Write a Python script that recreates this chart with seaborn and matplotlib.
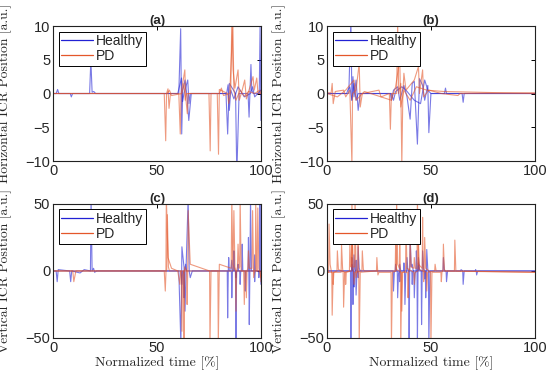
import pandas as pd
import seaborn as sns
import matplotlib.pyplot as plt
from matplotlib.lines import Line2D

# each trace: list of (normalized time, ICR position)
# (a) horizontal ICR, subject set 1
a_healthy_1 = [(0, 0), (1.5, 0), (2.2, 0.6), (2.8, 0), (8.3, 0), (8.8, -0.5), (9.4, 0),
               (17.6, 0), (18.2, 5), (18.8, 0.2), (19.6, 0.3), (20.5, 0), (60.5, 0),
               (61.4, 9.6), (61.9, -6), (62.4, 0.5), (63.5, 2), (64.5, -0.5), (65.3, -4),
               (66.5, 0), (83.2, 0), (84.0, -6), (84.8, 1.5), (87.8, 0), (88.4, -12),
               (89.5, 0), (93.8, 0), (94.3, -3.5), (95.2, 4.3), (95.6, 0.5), (96.3, 0),
               (99.2, 0), (99.6, 10), (100, -4)]
a_healthy_2 = [(0, 0), (60, 0), (61.8, 2.3), (62.3, -1.2), (63, 0), (64.8, 2), (65.4, -1.5),
               (66, 0), (83.5, 0), (84.2, 1.3), (84.8, -2.5), (85.5, 0.5), (87, -0.8),
               (89, 1), (92, -0.5), (95, 0), (96, 1), (97, -0.5), (100, 0.5)]
a_pd_1 = [(0, 0), (53.5, 0), (54.2, -7), (54.6, 0), (55.3, 0.7), (55.8, -2.2), (56.5, 0),
          (60.5, 0), (61.2, -6), (61.6, 0), (63.4, 3.5), (63.8, -0.5), (64.6, -3), (65, 0),
          (75, 0), (75.6, -8.5), (76, 0), (79, 0), (79.6, -9), (80, 0.6), (84, 0),
          (84.5, -1.5), (85.5, 0.5), (86, 11), (86.6, 3.5), (87.5, 0.8), (89, 3.5),
          (89.6, -1), (91, 0.5), (92.2, 2), (93, -0.8), (96.2, 2.5), (96.8, 0.5),
          (98, 2.3), (98.6, 0), (100, 0)]
a_pd_2 = [(0, 0), (55, 0), (56, 0.5), (57, -0.3), (62, 0), (63, 1.5), (63.6, -1), (64.2, 0),
          (80, 0), (81, 0.8), (82, -0.3), (85, 0), (86.5, 10.5), (87, 0.5), (88, -1),
          (90, 0.5), (92, -0.4), (94, 0.3), (97, 0), (99.5, 0.5), (100, 0)]

# (b) horizontal ICR, subject set 2
b_healthy_1 = [(0, 0), (10.5, 0), (11.5, 11), (12, -1), (12.5, 2.5), (13, -0.5), (14, 2),
               (15, -2.5), (16, 0), (30.5, 0), (31, -1), (32, 0.5), (34, 1), (35, -1),
               (37, 1.2), (38.5, -0.5), (40, -3.8), (41, 1.5), (42, 1.8), (43.5, -7.5),
               (44.5, 2.2), (46, 1.2), (47, -1), (48.5, 1.2), (49, -5.8), (50, 0),
               (56.5, 0), (57, 0.8), (57.5, 0), (65, 0), (65.5, -1.3), (66, 0), (100, 0)]
b_healthy_2 = [(0, 0), (9.5, 0), (10, 0.5), (11, 1), (12, -1), (13, 1.5), (14, -1), (15, 0),
               (31, 0), (32, -1), (33, 0.3), (36, 1), (38, 0.5), (42, -1), (45, -1.5),
               (47, 2), (48.5, 0.5), (50, 0), (100, 0)]
b_pd_1 = [(0, 0.1), (2, 0.1), (2.5, 1.5), (3, -1.5), (4, 0.3), (8, 0.5), (9, -0.5),
          (11, 0.5), (12, -10.5), (12.3, 0), (14, 0.5), (15.5, 4.5), (16, -2), (17, 0),
          (25, 0.5), (26, -0.5), (30, 0), (30.5, -5.3), (31, 0), (33.5, 0), (34, 10.5),
          (34.5, 0), (35.5, 1.5), (36, -10.5), (36.5, 0), (37, 3), (38, 0.5), (42, 2),
          (44, 4), (44.5, 0), (46, 3.5), (46.5, -0.5), (49, 0.5), (55, 0), (63, -0.3),
          (64, 0), (100, 0.1)]
b_pd_2 = [(0, 0), (5, -0.5), (9, 0.5), (13, 2), (14, -1), (18, 0.3), (31, -1), (33, 1),
          (35, 5), (35.5, -2), (37, 0.5), (40, -1), (43, 1), (48, 0.5), (56, 0.3), (100, 0)]

# (c) vertical ICR, subject set 1
c_healthy_1 = [(0, 0), (1.5, 0), (2, -8), (2.5, 1), (8, 0), (8.5, -8), (9, 0), (13, -1.5),
               (15, 1), (18, 0), (18.3, 55), (18.8, 0), (19.5, 2), (20, -1), (21, 0),
               (60.5, 0), (61.5, -55), (62, 18), (63, 3), (63.5, -30), (64, 2), (65, 55),
               (65.5, 0), (66, -5), (67, 0), (83.8, 0), (84, -35), (84.3, 0), (84.5, 10),
               (84.8, 0), (85.8, 0), (86, -20), (86.3, 0), (86.8, 0), (87, 15), (87.3, 0),
               (87.8, 0), (88, -55), (88.3, 0), (88.8, 0), (89, 5), (89.3, 0), (89.8, 0),
               (90, -10), (90.3, 0), (90.8, 0), (91, 20), (91.3, 0), (92.3, 0), (92.5, -15),
               (92.8, 0), (93.8, 0), (94, 25), (94.2, 0), (94.4, -40), (94.7, 0), (95, 55),
               (95.4, 0), (96.8, 0), (97, -8), (97.3, 0), (99.3, 0), (99.5, 55), (99.8, 0),
               (100, -10)]
c_healthy_2 = [(0, 0), (61.5, 0), (62, -10), (62.3, 0), (62.8, 0), (63, -20), (63.3, 0),
               (63.8, 5), (64.2, 0), (85.5, 0), (86, 8), (86.3, 0), (87.8, 0), (88, -5),
               (88.3, 0), (96.7, 0), (97, 12), (97.3, 0), (98.8, 0), (99, -5), (99.3, 0),
               (100, 0)]
c_pd_1 = [(0, 0), (9.5, 0), (10, -8), (11, 0), (53.5, 0), (54, -15), (54.3, -2), (54.5, 55),
          (55.3, 10), (57, 2), (60, 0), (61, -10), (61.4, 0), (62.8, 0), (63, -55),
          (63.3, 3), (64.3, 0), (64.5, -25), (64.8, 0), (65, 45), (66, 5), (75.3, 0),
          (75.5, -55), (76, 0), (79.3, 0), (79.5, -55), (80, 5), (85.7, 2), (86, 55),
          (86.5, 5), (87.7, 0), (88, -30), (88.3, 0), (88.7, 3), (89, 20), (89.5, 2),
          (89.8, 3), (90, 55), (90.5, 0), (92.7, 0), (93, -20), (93.3, 0), (93.7, 2),
          (94, 15), (94.4, 2), (95.7, 2), (96, 45), (96.5, -5), (97.3, 2), (97.5, 50),
          (98, 0), (99.8, 0), (100, -8)]
c_pd_2 = [(0, 0), (54.7, 0), (55, 42), (55.5, 3), (56, 0), (61.7, 0), (62, -45), (62.3, -3),
          (62.8, 0), (86.5, 0), (87, 45), (87.5, 3), (88, 0), (91.7, 0), (92, -25), (92.4, 0),
          (98.2, 0), (98.5, 47), (99, 2), (100, -5)]

# (d) vertical ICR, subject set 2
d_healthy_1 = [(0, 0), (11.3, 0), (11.5, -55), (11.8, 0), (12, 10), (12.3, 0), (12.5, -25),
               (12.8, 0), (13, 12), (13.4, 1), (13.8, 0), (14, -18), (14.4, -2), (14.8, 0),
               (15, 18), (15.5, 2), (16, 0), (31.8, 0), (32, -15), (32.4, -1), (32.8, 0),
               (33, 5), (33.5, 0), (33.8, 0), (34, -20), (34.4, -2), (34.8, 0), (35, 5),
               (35.5, 0), (37.3, 0), (37.5, -25), (37.9, -2), (38.3, 0), (38.5, 10),
               (38.9, 1), (39.3, 0), (39.5, -55), (39.8, 0), (40, 26), (40.5, 3), (41, 5),
               (41.5, 0), (41.8, 0), (42, -20), (42.4, -2), (42.8, 0), (43, 15), (43.3, 0),
               (43.5, -55), (43.8, 0), (44, 10), (44.5, 1), (45.3, 0), (45.5, -40),
               (45.8, 0), (46, 15), (46.5, 1), (47.3, 0), (47.5, -20), (47.8, 0), (48, 16),
               (48.5, 1), (48.8, 0), (49, -55), (49.5, 0), (55.8, 0), (56, 10), (56.5, 0),
               (57.3, 0), (57.5, -8), (58, 0), (64.3, 0), (64.5, 1), (65.3, 0), (65.5, -10),
               (66, 0), (71.3, 0), (71.5, 1), (71.8, 0), (72, -3), (72.5, 0), (100, 0)]
d_healthy_2 = [(0, 0), (11.8, 0), (12, 5), (12.3, 0), (12.8, 0), (13, -12), (13.3, 0),
               (13.8, 0), (14, 8), (14.3, 0), (14.8, 0), (15, -5), (15.3, 0), (34.8, 0),
               (35, -8), (35.3, 0), (36.8, 0), (37, 6), (37.3, 0), (40.8, 0), (41, -10),
               (41.3, 0), (43.8, 0), (44, 6), (44.3, 0), (46.8, 0), (47, -6), (47.3, 0),
               (100, 0)]
d_pd_1 = [(0, -1), (0.8, -1), (1, 35), (1.5, 5), (2.3, -2), (2.5, -33), (3, -1), (6.8, -1),
          (7, 20), (7.5, 2), (7.8, -2), (8, -27), (8.5, -1), (10.8, 0), (11, 20), (11.5, 3),
          (11.8, 5), (12, 55), (12.5, 3), (13.3, 3), (13.5, 55), (14, -5), (14.8, 2),
          (15, 20), (15.3, -2), (15.5, -55), (16, -1), (23.8, 0), (24, 10), (24.5, -3),
          (25, -1), (30.8, -1), (31, -55), (31.5, -1), (33.3, 0), (33.5, 55), (34, 5),
          (34.8, 2), (35, 25), (35.3, -2), (35.5, -55), (36, -1), (38.8, -1), (39, -20),
          (39.3, 0), (39.8, 2), (40, 25), (40.5, 3), (41.8, 2), (42, 10), (42.5, 2),
          (43.3, 2), (43.5, 55), (44, 5), (45.8, 2), (46, 40), (46.3, -2), (46.5, -8),
          (46.8, 2), (47, 25), (47.5, 2), (49.8, -1), (50, -55), (50.5, -1), (54.8, -1),
          (55, -8), (55.3, -1), (55.8, 1), (56, 20), (56.5, 1), (57, 0), (61.3, 0),
          (61.5, 23), (62, 0), (100, -1)]
d_pd_2 = [(0, -1), (2.8, -1), (3, -10), (3.3, -1), (4.8, 0), (5, 15), (5.5, 1), (8.8, -1),
          (9, -10), (9.3, -1), (11.8, 0), (12, 35), (12.5, 2), (12.8, -1), (13, -10),
          (13.4, -1), (16.8, 0), (17, 15), (17.5, 1), (18, 0), (32.8, 0), (33, 20),
          (33.5, 1), (35.8, -1), (36, -30), (36.4, -1), (37.8, 0), (38, 35), (38.5, 2),
          (41.8, -1), (42, -10), (42.4, -1), (43.8, 0), (44, 20), (44.5, 1), (47.8, -1),
          (48, -15), (48.4, -1), (51.8, 0), (52, 5), (52.5, 0), (100, -1)]

panels = {
    "(a)": {"Healthy": [a_healthy_1, a_healthy_2], "PD": [a_pd_1, a_pd_2]},
    "(b)": {"Healthy": [b_healthy_1, b_healthy_2], "PD": [b_pd_1, b_pd_2]},
    "(c)": {"Healthy": [c_healthy_1, c_healthy_2], "PD": [c_pd_1, c_pd_2]},
    "(d)": {"Healthy": [d_healthy_1, d_healthy_2], "PD": [d_pd_1, d_pd_2]},
}
ylims = {"(a)": (-10, 10), "(b)": (-10, 10), "(c)": (-50, 50), "(d)": (-50, 50)}
yticks = {"(a)": [-10, -5, 0, 5, 10], "(b)": [-10, -5, 0, 5, 10],
          "(c)": [-50, 0, 50], "(d)": [-50, 0, 50]}
ylabels = {"(a)": "Horizontal ICR Position [a.u.]", "(b)": "Horizontal ICR Position [a.u.]",
           "(c)": "Vertical ICR Position [a.u.]", "(d)": "Vertical ICR Position [a.u.]"}

colors = {"Healthy": "#2121d4", "PD": "#e4572a"}

sns.set_style("white")
plt.rcParams["font.family"] = ["Liberation Sans", "DejaVu Sans"]

fig = plt.figure(figsize=(5.5, 3.82), dpi=100)
rects = {"(a)": [0.0964, 0.5785, 0.378, 0.3534], "(b)": [0.5945, 0.5785, 0.378, 0.3534],
         "(c)": [0.0964, 0.1152, 0.378, 0.351], "(d)": [0.5945, 0.1152, 0.378, 0.351]}

for name, groups in panels.items():
    ax = fig.add_axes(rects[name])
    rows = []
    for grp, traces in groups.items():
        for i, tr in enumerate(traces):
            for t, v in tr:
                rows.append({"t": t, "v": v, "group": grp, "trace": f"{grp}{i}"})
    df = pd.DataFrame(rows)
    sns.lineplot(data=df, x="t", y="v", hue="group", units="trace", estimator=None,
                 palette=colors, hue_order=["Healthy", "PD"], sort=False,
                 lw=0.8, alpha=0.6, legend=False, ax=ax)
    ax.set_xlim(0, 100)
    ax.set_ylim(*ylims[name])
    ax.set_xticks([0, 50, 100])
    ax.set_yticks(yticks[name])
    ax.tick_params(direction="in", top=True, right=True, length=3, labelsize=10.5,
                   width=0.7, color="black", pad=2)
    for s in ax.spines.values():
        s.set_color("#222222")
        s.set_linewidth(0.8)
    ax.set_title(name, fontsize=9.5, fontweight="bold", pad=1.5)
    ax.set_ylabel(ylabels[name], family="cmr10", fontsize=9.8)
    ax.yaxis.set_label_coords(-0.195, 0.5)
    if name in ("(c)", "(d)"):
        ax.set_xlabel("Normalized time [%]", family="cmr10", fontsize=10, labelpad=1)
    else:
        ax.set_xlabel("")
    handles = [Line2D([], [], color=colors[g], lw=0.9) for g in ["Healthy", "PD"]]
    leg = ax.legend(handles, ["Healthy", "PD"], loc="upper left", fontsize=10,
                    frameon=True, fancybox=False, edgecolor="black", framealpha=1,
                    borderpad=0.2, labelspacing=0.05, handlelength=2.3, handletextpad=0.2,
                    borderaxespad=0.4)
    leg.get_frame().set_linewidth(0.7)

fig.savefig("out.png", dpi=100)
